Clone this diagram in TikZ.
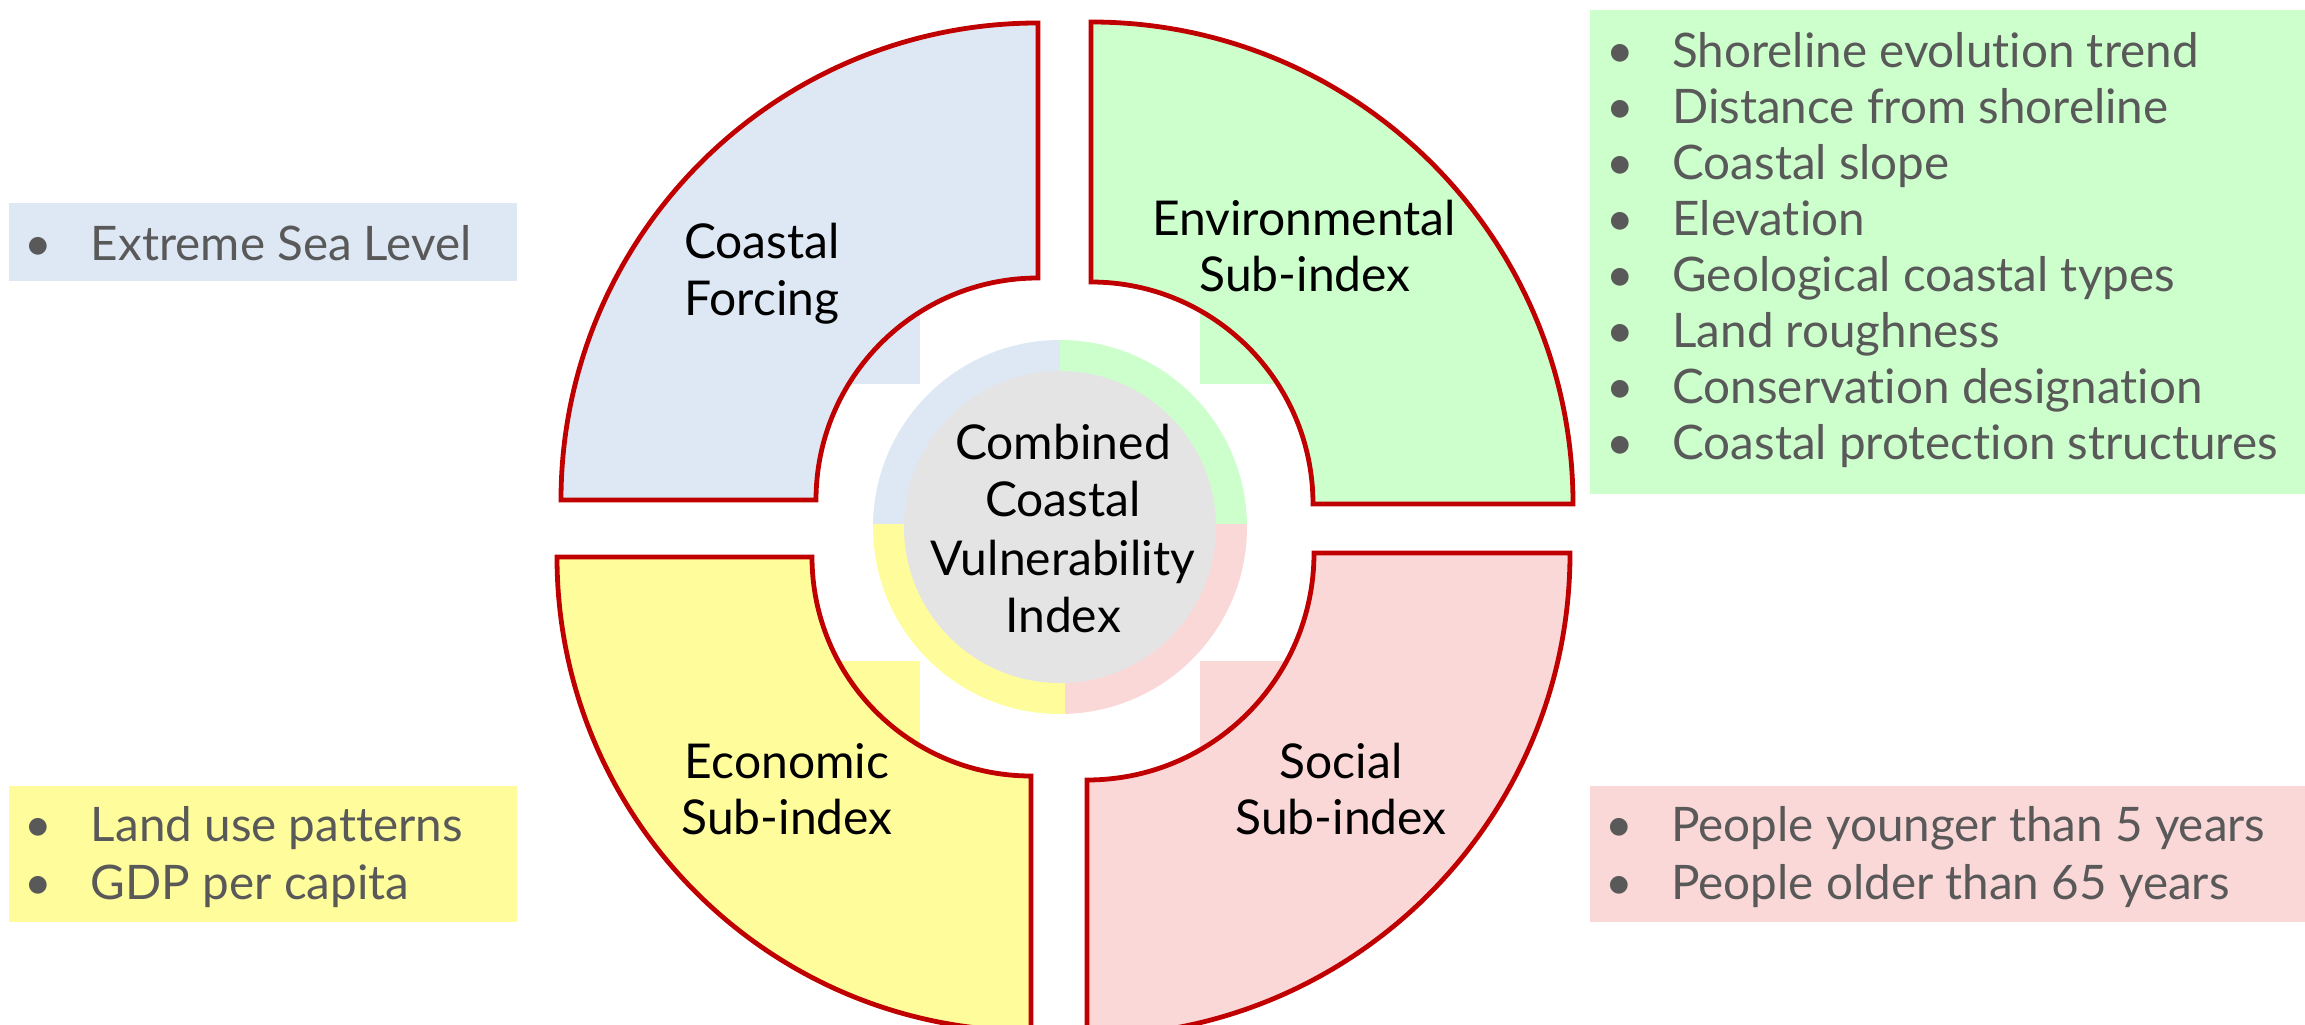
\documentclass[tikz,border=0pt]{standalone}
\usepackage{fontspec}
\setmainfont{Lato}[Ligatures={NoCommon}]
\definecolor{cfblue}{HTML}{DEE8F4}
\definecolor{envgreen}{HTML}{CCFFCC}
\definecolor{ecoyellow}{HTML}{FFFD9B}
\definecolor{socpink}{HTML}{FBD8D8}
\definecolor{rimred}{HTML}{C00000}
\definecolor{coregray}{HTML}{E4E4E4}
\definecolor{listgray}{HTML}{595959}
% bulleted entry: bullet, then text at a fixed indent
\newcommand{\itm}[1]{\makebox[33pt][l]{\textbullet}#1}
\begin{document}
\begin{tikzpicture}[x=0.5pt,y=0.5pt,
  quad/.style={draw=rimred,line width=2.4pt,line join=miter},
  listbox/.style={inner sep=0pt,outer sep=0pt,anchor=north west,draw=none},
  listline/.style={anchor=base west,inner sep=0pt,text=listgray,
    font=\fontsize{23.8pt}{28.5pt}\selectfont},
  lbl/.style={anchor=base,inner sep=0pt,text=black,
    font=\fontsize{24pt}{28.5pt}\selectfont},
]
\useasboundingbox (0,0) rectangle (2305,1024);
\clip (0,0) rectangle (2305,1024);

% ---- indicator boxes ----
\node[listbox,fill=cfblue,minimum width=254pt,minimum height=39pt] (boxcf) at (9,821) {};
\node[listbox,fill=envgreen,minimum width=357.5pt,minimum height=242pt] (boxenv) at (1590,1014) {};
\node[listbox,fill=ecoyellow,minimum width=254pt,minimum height=68pt] (boxeco) at (9,238) {};
\node[listbox,fill=socpink,minimum width=357.5pt,minimum height=68pt] (boxsoc) at (1590,238) {};

\node[listline] (cf1) at (24.6,763.3) {\itm{Extreme Sea Level}};

\foreach \t [count=\k from 0] in {Shoreline evolution trend,Distance from shoreline,
  Coastal slope,Elevation,Geological coastal types,Land roughness,
  Conservation designation,Coastal protection structures}
  \node[listline] (env\k) at (1606,956.3-56*\k) {\itm{\t}};

\node[listline] (eco1) at (24.6,182.3) {\itm{Land use patterns}};
\node[listline] (eco2) at (24.6,125) {\itm{GDP per capita}};
\node[listline] (soc1) at (1605,182.3) {\itm{People younger than 5 years}};
\node[listline] (soc2) at (1605,125) {\itm{People older than 65 years}};

% ---- corner patches behind the inner arcs ----
\fill[cfblue] (830,640) rectangle (920,724);
\fill[envgreen] (1200,640) rectangle (1290,724);
\fill[ecoyellow] (830,274) rectangle (920,363);
\fill[socpink] (1200,274) rectangle (1290,363);

% ---- four quarter-ring sectors ----
\filldraw[quad,fill=cfblue] (561,524) arc[start angle=180,end angle=90,radius=477]
  -- (1038,746) arc[start angle=90,end angle=180,radius=222] -- cycle;
\filldraw[quad,fill=envgreen] (1091,1002) arc[start angle=90,end angle=0,radius=482]
  -- (1313,520) arc[start angle=0,end angle=90,radius=222] -- cycle;
\filldraw[quad,fill=ecoyellow] (1031,-7) arc[start angle=270,end angle=180,radius=474]
  -- (812,467) arc[start angle=180,end angle=270,radius=219] -- cycle;
\filldraw[quad,fill=socpink] (1087,-12) arc[start angle=270,end angle=360,radius=483]
  -- (1314,471) arc[start angle=0,end angle=-90,radius=227] -- cycle;

% ---- central ring and core ----
\begin{scope}
  \clip (1060,497) circle[radius=187];
  \fill[cfblue] (860,500) rectangle (1060,700);
  \fill[envgreen] (1060,500) rectangle (1260,700);
  \fill[ecoyellow] (860,300) rectangle (1065,500);
  \fill[socpink] (1065,300) rectangle (1260,500);
\end{scope}
\node[circle,fill=coregray,draw=none,minimum size=156pt,inner sep=0pt] (core) at (1060,497) {};

% ---- labels ----
\node[lbl] (cfa) at (762,765) {Coastal};
\node[lbl] (cfb) at (762,708) {Forcing};
\node[lbl] (enva) at (1304,788) {Environmental};
\node[lbl] (envb) at (1305,732) {Sub-index};
\node[lbl] (ecoa) at (787,246) {Economic};
\node[lbl] (ecob) at (787,190) {Sub-index};
\node[lbl] (soca) at (1341,246) {Social};
\node[lbl] (socb) at (1341,190) {Sub-index};
\node[lbl] (ccva) at (1063,564.7) {Combined};
\node[lbl] (ccvb) at (1063,507.3) {Coastal};
\node[lbl] (ccvc) at (1063,449) {Vulnerability};
\node[lbl] (ccvd) at (1063,392) {Index};
\end{tikzpicture}
\end{document}
